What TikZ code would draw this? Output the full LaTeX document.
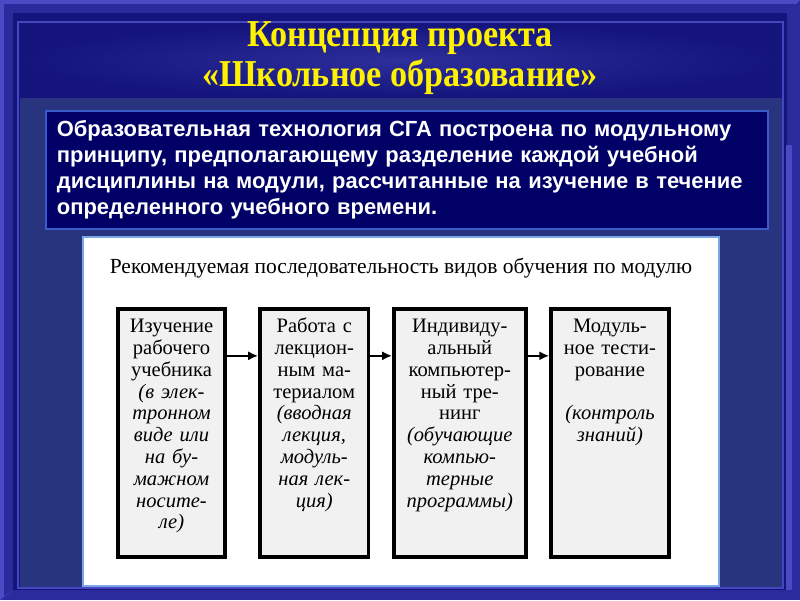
\documentclass[tikz,border=0pt]{standalone}
\usepackage{fontspec}
\setmainfont{Liberation Serif}
\newfontfamily\leadfont{Liberation Sans}
\newfontfamily\titlefont[FakeStretch=0.9]{Liberation Serif}
\usetikzlibrary{arrows.meta,positioning}

\definecolor{framebg}{HTML}{2B2B9E}
\definecolor{framelight}{HTML}{4A4AC4}
\definecolor{titlebg}{HTML}{14147C}
\definecolor{titleglow}{HTML}{2E2E9C}
\definecolor{titlerule}{HTML}{4545C0}
\definecolor{bodybg}{HTML}{29347F}
\definecolor{leadbg}{HTML}{000066}
\definecolor{leadrule}{HTML}{3A5CCB}
\definecolor{panelrule}{HTML}{7BA7EA}
\definecolor{stepfill}{HTML}{F1F1F1}

\begin{document}
\begin{tikzpicture}[x=0.025cm, y=-0.025cm,
  >=Latex,
  node distance=0.8cm,
  title/.style={text=yellow, font=\titlefont\bfseries\fontsize{27}{28}\selectfont, align=center},
  lead/.style={draw=leadrule, line width=1.2pt, fill=leadbg, text=white, align=left,
    font=\leadfont\bfseries\fontsize{15.6}{18.6}\selectfont,
    text width=17.5cm, minimum width=18.05cm, minimum height=2.95cm, inner xsep=0.27cm, anchor=north west},
  stepbox/.style={draw, line width=2.5pt, fill=stepfill, anchor=north, align=center,
    font=\fontsize{14.6}{15.5}\selectfont, inner xsep=0pt, inner ysep=0pt,
    text height=0.6cm, text depth=5.6cm},
  flow/.style={-{Latex[length=7pt,width=6.5pt]}, line width=1.5pt}
]
\useasboundingbox (0,0) rectangle (800,600);

% frame and background
\fill[framebg] (0,0) rectangle (800,600);
\fill[framelight] (0,0) -- (800,0) -- (787,13) -- (13,13) -- (13,590) -- (0,600) -- cycle;
\fill[framebg] (4,4) -- (796,4) -- (787,13) -- (13,13) -- (13,590) -- (4,596) -- cycle;
\fill[titlebg] (13,13) rectangle (787,590);
\shade[inner color=titleglow, outer color=titlebg] (20,23) rectangle (782,98);
\draw[titlerule, line width=1.2pt] (18,22) rectangle (783,588);
\fill[bodybg] (20,98) rectangle (782,587);
\fill[framelight] (786,145) rectangle (792,590);

\node[title] (title) at (400,58) {Концепция проекта\\«Школьное образование»};

\node[lead] (lead) at (45,110) {Образовательная технология СГА построена по модульному\\
принципу, предполагающему разделение каждой учебной\\
дисциплины на модули, рассчитанные на изучение в течение\\
определенного учебного времени.};

% white panel
\draw[panelrule, line width=1.5pt, fill=white] (83,237) rectangle (719,586);
\node[font=\fontsize{15.3}{18}\selectfont] (head) at (401,268) {Рекомендуемая последовательность видов обучения по модулю};

\node[stepbox, text width=2.68cm] (study) at (171.5,307) {Изучение\\ рабочего\\ учебника\\ \itshape (в элек-\\ тронном\\ виде или\\ на бу-\\ мажном\\ носите-\\ ле)};
\node[stepbox, text width=2.72cm, right=0.78cm of study] (lecture) {Работа с\\ лекцион-\\ ным ма-\\ териалом\\ \itshape (вводная\\ лекция,\\ модуль-\\ ная лек-\\ ция)};
\node[stepbox, text width=3.3cm, right=0.54cm of lecture] (train) {Индивиду-\\ альный\\ компьютер-\\ ный тре-\\ нинг\\ \itshape (обучающие\\ компью-\\ терные\\ программы)};
\node[stepbox, text width=2.95cm, right=0.54cm of train] (test) {Модуль-\\ ное тести-\\ рование\\[15.5pt] \itshape (контроль\\ знаний)};

\draw[flow] ([yshift=-1.22cm]study.north east) -- ([yshift=-1.22cm]lecture.north west);
\draw[flow] ([yshift=-1.22cm]lecture.north east) -- ([yshift=-1.22cm]train.north west);
\draw[flow] ([yshift=-1.22cm]train.north east) -- ([yshift=-1.22cm]test.north west);
\end{tikzpicture}
\end{document}
